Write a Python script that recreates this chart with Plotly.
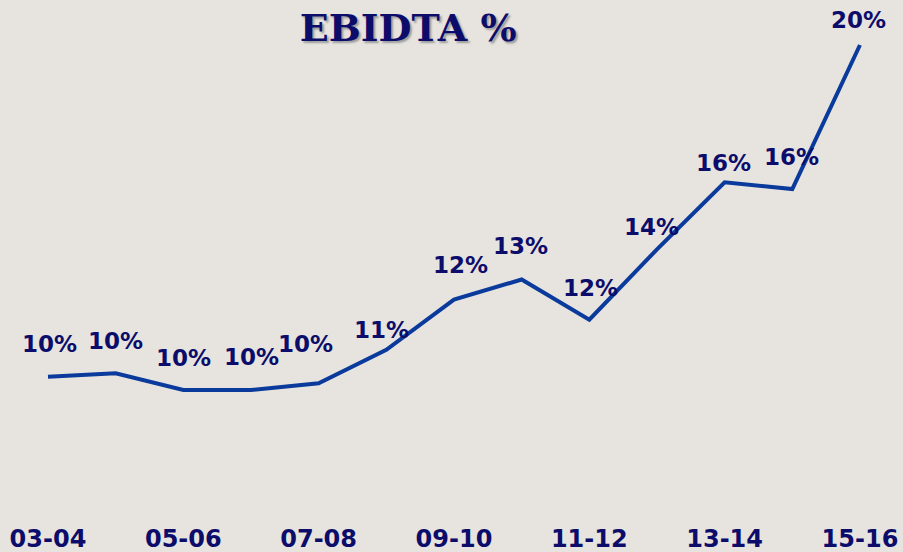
import plotly.graph_objects as go

# ---- data ----
years = ["03-04", "04-05", "05-06", "06-07", "07-08", "08-09", "09-10",
         "10-11", "11-12", "12-13", "13-14", "14-15", "15-16"]
ebitda_pct = [10.1, 10.2, 9.7, 9.7, 9.9, 10.9, 12.4, 13.0, 11.8, 13.9, 15.9, 15.7, 20.0]
tick_labels = ["03-04", "05-06", "07-08", "09-10", "11-12", "13-14", "15-16"]
title_text = "EBIDTA %"

# ---- label offsets (style, px) ----
label_dx = [2, 0, 0, 1, -13, -5, 7, -1, 1, -5, -1, -1, -1]
label_dy = [33, 32, 32, 33, 39, 20, 35, 33, 32, 22, 19, 32, 25]

NAVY = "#0c0c6a"
LINE = "#0a3a9c"
BG = "#e7e4df"

fig = go.Figure()
fig.add_trace(go.Scatter(
    x=years, y=ebitda_pct, mode="lines",
    line=dict(color=LINE, width=4),
    hoverinfo="skip", showlegend=False,
))

for x, v, dx, dy in zip(years, ebitda_pct, label_dx, label_dy):
    fig.add_annotation(
        x=x, y=v, text=f"{v:.0f}%", showarrow=False,
        xanchor="center", yanchor="middle", xshift=dx, yshift=dy,
        font=dict(family="DejaVu Sans", size=23, color=NAVY, weight="bold"),
    )

fig.update_layout(
    width=903, height=552,
    paper_bgcolor=BG, plot_bgcolor=BG,
    margin=dict(l=0, r=0, t=0, b=30),
    title=dict(
        text=title_text, x=0.452, xref="paper", xanchor="center",
        y=0.949, yref="container", yanchor="middle",
        font=dict(family="DejaVu Serif", size=38, color=NAVY, weight="bold",
                  shadow="2px 2px 2px #9a9a9a"),
    ),
    xaxis=dict(
        type="category", range=[-0.709, 12.636],
        tickmode="array", tickvals=tick_labels, ticktext=tick_labels,
        showgrid=False, zeroline=False, showline=False, ticks="",
        tickfont=dict(family="DejaVu Sans", size=24, color=NAVY, weight="bold"),
    ),
    yaxis=dict(range=[5.761, 21.343], visible=False, showgrid=False, zeroline=False),
)

fig.write_html(
    "out.html",
    config={"displayModeBar": False, "staticPlot": True},
    post_script="document.body.style.margin='0';document.body.style.background='" + BG + "';",
)
